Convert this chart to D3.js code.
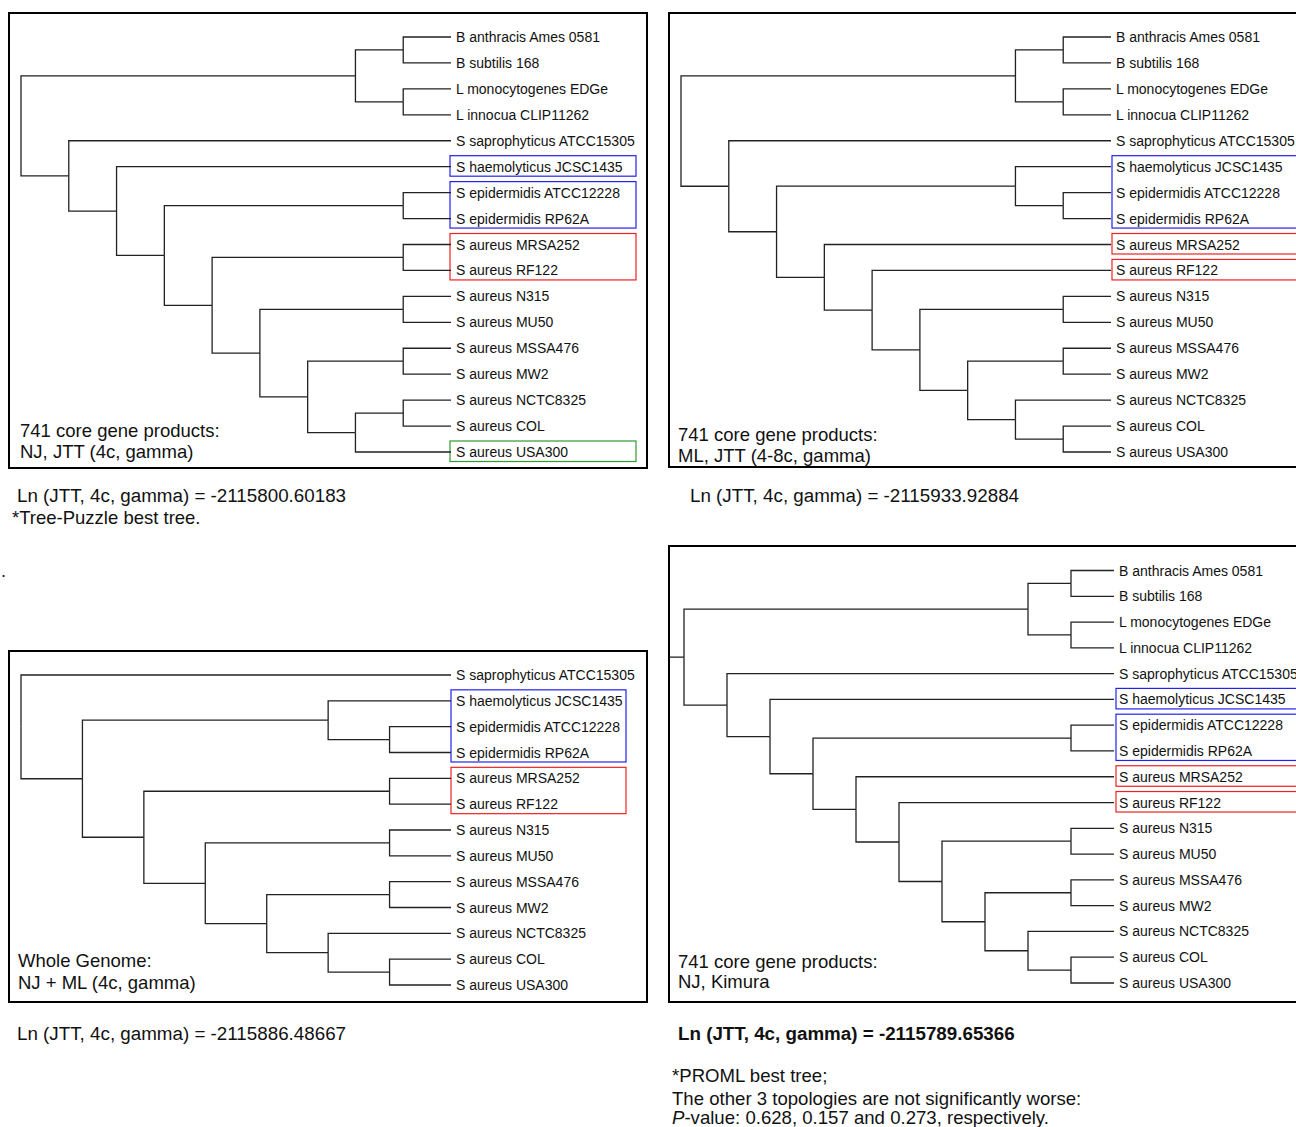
<!DOCTYPE html>
<html>
<head>
<meta charset="utf-8">
<script src="https://cdn.jsdelivr.net/npm/d3@7"></script>
<style>
  body { margin: 0; background: #fff; }
  svg { display: block; }
  text { font-family: Arial, "Liberation Sans", Helvetica, sans-serif; fill: #111; }
</style>
</head>
<body>
<svg id="fig" width="1296" height="1127"></svg>
<script>
// ---- Tree topologies (nested pairs; leaves are strain names) ----
const bacillusListeria = [
  ["B anthracis Ames 0581", "B subtilis 168"],
  ["L monocytogenes EDGe", "L innocua CLIP11262"]
];

// 741 core gene products, NJ, JTT (4c, gamma)
const treeCoreNJ = [
  bacillusListeria,
  ["S saprophyticus ATCC15305",
    ["S haemolyticus JCSC1435",
      [["S epidermidis ATCC12228", "S epidermidis RP62A"],
        [["S aureus MRSA252", "S aureus RF122"],
          [["S aureus N315", "S aureus MU50"],
            [["S aureus MSSA476", "S aureus MW2"],
              [["S aureus NCTC8325", "S aureus COL"], "S aureus USA300"]]]]]]]
];

// 741 core gene products, ML, JTT (4-8c, gamma)
const treeCoreML = [
  bacillusListeria,
  ["S saprophyticus ATCC15305",
    [["S haemolyticus JCSC1435", ["S epidermidis ATCC12228", "S epidermidis RP62A"]],
      ["S aureus MRSA252",
        ["S aureus RF122",
          [["S aureus N315", "S aureus MU50"],
            [["S aureus MSSA476", "S aureus MW2"],
              ["S aureus NCTC8325", ["S aureus COL", "S aureus USA300"]]]]]]]]
];

// Whole genome, NJ + ML (4c, gamma)
const treeWholeGenome = [
  "S saprophyticus ATCC15305",
  [["S haemolyticus JCSC1435", ["S epidermidis ATCC12228", "S epidermidis RP62A"]],
    [["S aureus MRSA252", "S aureus RF122"],
      [["S aureus N315", "S aureus MU50"],
        [["S aureus MSSA476", "S aureus MW2"],
          ["S aureus NCTC8325", ["S aureus COL", "S aureus USA300"]]]]]]
];

// 741 core gene products, NJ, Kimura
const treeCoreKimura = [
  bacillusListeria,
  ["S saprophyticus ATCC15305",
    ["S haemolyticus JCSC1435",
      [["S epidermidis ATCC12228", "S epidermidis RP62A"],
        ["S aureus MRSA252",
          ["S aureus RF122",
            [["S aureus N315", "S aureus MU50"],
              [["S aureus MSSA476", "S aureus MW2"],
                ["S aureus NCTC8325", ["S aureus COL", "S aureus USA300"]]]]]]]]]
];

// ---- Highlighted leaf ranges: [first leaf, last leaf, group] ----
const highlightsCoreNJ = [
  ["S haemolyticus JCSC1435", "S haemolyticus JCSC1435", "CoNS"],
  ["S epidermidis ATCC12228", "S epidermidis RP62A", "CoNS"],
  ["S aureus MRSA252", "S aureus RF122", "aureus"],
  ["S aureus USA300", "S aureus USA300", "USA300"]
];
const highlightsCoreML = [
  ["S haemolyticus JCSC1435", "S epidermidis RP62A", "CoNS"],
  ["S aureus MRSA252", "S aureus MRSA252", "aureus"],
  ["S aureus RF122", "S aureus RF122", "aureus"]
];
const highlightsWholeGenome = [
  ["S haemolyticus JCSC1435", "S epidermidis RP62A", "CoNS"],
  ["S aureus MRSA252", "S aureus RF122", "aureus"]
];
const highlightsCoreKimura = [
  ["S haemolyticus JCSC1435", "S haemolyticus JCSC1435", "CoNS"],
  ["S epidermidis ATCC12228", "S epidermidis RP62A", "CoNS"],
  ["S aureus MRSA252", "S aureus MRSA252", "aureus"],
  ["S aureus RF122", "S aureus RF122", "aureus"]
];

// ---- Captions and log-likelihoods ----
const captions = [
  ["741 core gene products:", "NJ, JTT (4c, gamma)"],
  ["741 core gene products:", "ML, JTT (4-8c, gamma)"],
  ["Whole Genome:", "NJ + ML (4c, gamma)"],
  ["741 core gene products:", "NJ, Kimura"]
];
const logLikelihoods = [-2115800.60183, -2115933.92884, -2115886.48667, -2115789.65366];
const pValues = [0.628, 0.157, 0.273];

// ---- Drawing ----
const svg = d3.select("#fig");
const hlColor = d3.scaleOrdinal()
  .domain(["CoNS", "aureus", "USA300"])
  .range(["#2222ee", "#ee2222", "#2f9a2f"]);

const panels = [
  { tree: treeCoreNJ, highlights: highlightsCoreNJ, caption: captions[0], lnl: logLikelihoods[0],
    frame: [9, 13, 647, 468], rootX: 21, tipX: 451, leafY: [37, 452], boxX: [450, 636],
    capX: 20, capY: [436.5, 457.5], lnX: 17, lnY: 502, lnBold: false },
  { tree: treeCoreML, highlights: highlightsCoreML, caption: captions[1], lnl: logLikelihoods[1],
    frame: [669, 13, 1330, 467], rootX: 681, tipX: 1111, leafY: [37, 452], boxX: [1112, 1320],
    capX: 678, capY: [440.5, 461.5], lnX: 690, lnY: 502, lnBold: false },
  { tree: treeWholeGenome, highlights: highlightsWholeGenome, caption: captions[2], lnl: logLikelihoods[2],
    frame: [9, 651, 647, 1002], rootX: 21, tipX: 451, leafY: [675, 985], boxX: [451, 626],
    capX: 18, capY: [967, 989], lnX: 17, lnY: 1039.5, lnBold: false },
  { tree: treeCoreKimura, highlights: highlightsCoreKimura, caption: captions[3], lnl: logLikelihoods[3],
    frame: [669, 546, 1330, 1002], rootX: 684, tipX: 1114, leafY: [570.5, 983], boxX: [1116, 1320],
    capX: 678, capY: [968, 988], lnX: 678, lnY: 1039.5, lnBold: true, stubX: 670 }
];

panels.forEach(p => {
  const g = svg.append("g");
  const root = d3.hierarchy(p.tree, d => Array.isArray(d) ? d : null);
  d3.cluster().size([1, 1]).separation(() => 1)(root);
  const leaves = root.leaves();
  const byName = new Map(leaves.map(l => [l.data, l]));

  const y = d3.scaleLinear().domain(d3.extent(leaves, d => d.x)).range(p.leafY);
  const x = d3.scaleLinear().domain([0, 1]).range([p.rootX, p.tipX]);

  // panel frame
  g.append("rect")
    .attr("x", p.frame[0]).attr("y", p.frame[1])
    .attr("width", p.frame[2] - p.frame[0]).attr("height", p.frame[3] - p.frame[1])
    .attr("fill", "none").attr("stroke", "#000").attr("stroke-width", 2);

  // highlight boxes around strain groups
  g.selectAll("rect.hl").data(p.highlights).join("rect")
    .attr("class", "hl")
    .attr("x", p.boxX[0]).attr("width", p.boxX[1] - p.boxX[0])
    .attr("y", d => y(byName.get(d[0]).x) - 11)
    .attr("height", d => y(byName.get(d[1]).x) - y(byName.get(d[0]).x) + 20.5)
    .attr("fill", "none")
    .attr("stroke", d => hlColor(d[2]))
    .attr("stroke-width", 1.2);

  // elbow branches
  g.selectAll("path.link").data(root.links()).join("path")
    .attr("class", "link")
    .attr("d", l => `M${x(l.source.y)},${y(l.source.x)}V${y(l.target.x)}H${x(l.target.y)}`)
    .attr("fill", "none").attr("stroke", "#222").attr("stroke-width", 1.3);

  if (p.stubX != null) {
    g.append("path")
      .attr("d", `M${p.stubX},${y(root.x)}H${x(root.y)}`)
      .attr("fill", "none").attr("stroke", "#222").attr("stroke-width", 1.3);
  }

  // strain labels
  g.selectAll("text.leaf").data(leaves).join("text")
    .attr("class", "leaf")
    .attr("x", x(1) + 5).attr("y", d => y(d.x)).attr("dy", "0.36em")
    .style("font-size", "14px")
    .text(d => d.data);

  // method caption
  g.selectAll("text.cap").data(p.caption).join("text")
    .attr("class", "cap")
    .attr("x", p.capX).attr("y", (d, i) => p.capY[i])
    .style("font-size", "18.5px")
    .text(d => d);

  // log-likelihood line
  g.append("text")
    .attr("x", p.lnX).attr("y", p.lnY)
    .style("font-size", "18.8px")
    .style("font-weight", p.lnBold ? "bold" : "normal")
    .text(`Ln (JTT, 4c, gamma) = ${p.lnl.toFixed(5)}`);
});

// footnotes
svg.append("text").attr("x", 12).attr("y", 523.5).style("font-size", "18.5px")
  .text("*Tree-Puzzle best tree.");
svg.append("text").attr("x", 1).attr("y", 577).style("font-size", "18px").text(".");

const notes = svg.append("g").style("font-size", "18.6px");
notes.append("text").attr("x", 672).attr("y", 1081.5).text("*PROML best tree;");
notes.append("text").attr("x", 672).attr("y", 1104.5)
  .text("The other 3 topologies are not significantly worse:");
const pv = notes.append("text").attr("x", 672).attr("y", 1124);
pv.append("tspan").style("font-style", "italic").text("P");
pv.append("tspan").text(`-value: ${pValues[0].toFixed(3)}, ${pValues[1].toFixed(3)} and ${pValues[2].toFixed(3)}, respectively.`);
</script>
</body>
</html>
